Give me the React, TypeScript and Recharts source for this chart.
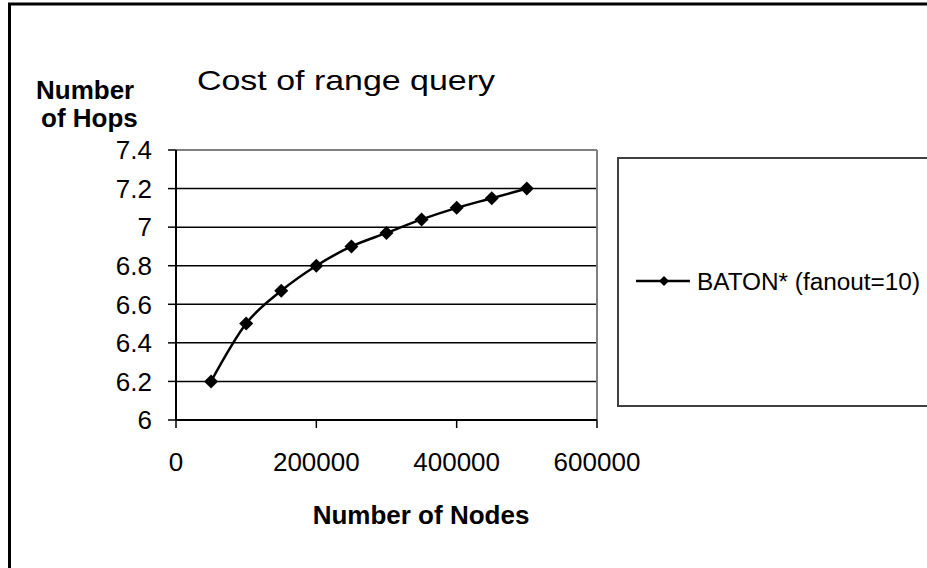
import React from 'react';
import { LineChart, Line, XAxis, YAxis, CartesianGrid, ReferenceLine, Legend, Customized } from 'recharts';

const nodeCounts = [50000, 100000, 150000, 200000, 250000, 300000, 350000, 400000, 450000, 500000];
const hops = [6.2, 6.5, 6.67, 6.8, 6.9, 6.97, 7.04, 7.1, 7.15, 7.2];
const xTicks = [0, 200000, 400000, 600000];
const yTicks = [6, 6.2, 6.4, 6.6, 6.8, 7, 7.2, 7.4];
const seriesName = 'BATON* (fanout=10)';
const chartTitle = 'Cost of range query';
const yTitleLines = ['Number', 'of Hops'];
const xTitle = 'Number of Nodes';

const data = nodeCounts.map((n, i) => ({ nodes: n, hops: hops[i] }));

const FONT = '"Liberation Sans", Arial, sans-serif';

const Diamond = (props: any) => {
  const { cx, cy, index } = props;
  if (cx == null || cy == null) return null;
  const r = 7;
  return (
    <path
      key={`d-${index}`}
      d={`M${cx} ${cy - r} L${cx + r} ${cy} L${cx} ${cy + r} L${cx - r} ${cy} Z`}
      fill="#000"
      stroke="none"
    />
  );
};

const Decor = () => (
  <g fontFamily={FONT} fill="#000">
    <rect x={9.5} y={4} width={1200} height={1200} fill="none" stroke="#000" strokeWidth={3} />
    <text x={197} y={90} fontSize={28} textLength={298} lengthAdjust="spacingAndGlyphs">
      {chartTitle}
    </text>
    <text x={36} y={99} fontSize={26} fontWeight="bold">
      {yTitleLines[0]}
    </text>
    <text x={41} y={127} fontSize={26} fontWeight="bold">
      {yTitleLines[1]}
    </text>
    <text x={421} y={524} fontSize={26} fontWeight="bold" textAnchor="middle">
      {xTitle}
    </text>
  </g>
);

const LegendBox = (props: any) => {
  const label = props?.payload?.[0]?.value ?? seriesName;
  const cy = 122;
  const cx = 45;
  const r = 5;
  return (
    <div
      style={{
        width: 330,
        height: 250,
        boxSizing: 'border-box',
        border: '2px solid #404040',
        background: '#fff',
      }}
    >
      <svg width={326} height={246} style={{ display: 'block' }}>
        <line x1={17} y1={cy} x2={71} y2={cy} stroke="#000" strokeWidth={2.5} />
        <path d={`M${cx} ${cy - r} L${cx + r} ${cy} L${cx} ${cy + r} L${cx - r} ${cy} Z`} fill="#000" />
        <text x={78} y={cy + 9} fontSize={23} fontFamily={FONT} fill="#000" textLength={223} lengthAdjust="spacingAndGlyphs">
          {label}
        </text>
      </svg>
    </div>
  );
};

export default function App() {
  return (
    <div style={{ position: 'absolute', left: 0, top: 0, width: 927, height: 568, overflow: 'hidden', background: '#fff' }}>
      <LineChart
        width={927}
        height={568}
        data={data}
        margin={{ top: 150, right: 330, left: 116, bottom: 88 }}
      >
        <CartesianGrid vertical={false} stroke="#000" strokeWidth={1.5} />
        <XAxis
          dataKey="nodes"
          type="number"
          domain={[0, 600000]}
          ticks={xTicks}
          height={60}
          tickSize={8}
          tickMargin={25}
          axisLine={{ stroke: '#000', strokeWidth: 2 }}
          tickLine={{ stroke: '#000', strokeWidth: 1.5 }}
          tick={{ fontSize: 26, fill: '#000', fontFamily: FONT }}
          interval={0}
        />
        <YAxis
          type="number"
          domain={[6, 7.4]}
          ticks={yTicks}
          width={60}
          tickSize={8}
          tickMargin={16}
          axisLine={{ stroke: '#000', strokeWidth: 2 }}
          tickLine={{ stroke: '#000', strokeWidth: 1.5 }}
          tick={{ fontSize: 26, fill: '#000', fontFamily: FONT }}
          interval={0}
        />
        <ReferenceLine y={7.4} stroke="#808080" strokeWidth={2} />
        <ReferenceLine x={600000} stroke="#808080" strokeWidth={2} />
        <Line
          dataKey="hops"
          name={seriesName}
          type="monotone"
          stroke="#000"
          strokeWidth={2.5}
          dot={Diamond}
          activeDot={false}
          isAnimationActive={false}
        />
        <Legend
          layout="horizontal"
          verticalAlign="middle"
          align="center"
          wrapperStyle={{ left: 617, top: 157, width: 330, height: 250 }}
          content={(p: any) => <LegendBox payload={p.payload} />}
        />
        <Customized component={Decor} />
      </LineChart>
    </div>
  );
}
